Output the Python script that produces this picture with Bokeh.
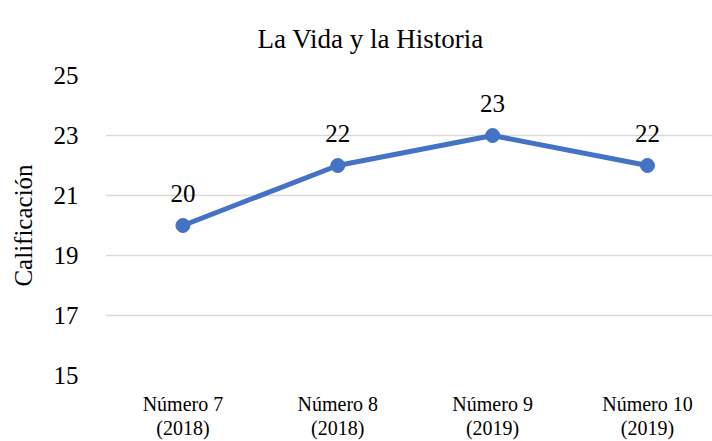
from bokeh.plotting import figure
from bokeh.models import Range1d, FixedTicker, ColumnDataSource
from bokeh.core.properties import value
from bokeh.embed import file_html
from bokeh.resources import INLINE

# Data
categories = ["Número 7\n(2018)", "Número 8\n(2018)", "Número 9\n(2019)", "Número 10\n(2019)"]
scores = [20, 22, 23, 22]
y_ticks = [15, 17, 19, 21, 23, 25]
title_text = "La Vida y la Historia"
y_label = "Calificación"

FONT = "Liberation Serif"
BLUE = "#4472C4"

xs = list(range(len(categories)))
src = ColumnDataSource(dict(x=xs, y=scores, lbl=[str(v) for v in scores]))

p = figure(frame_width=607, frame_height=300, output_backend="svg", toolbar_location=None,
           x_range=Range1d(-0.5, 3.42), y_range=Range1d(15, 25),
           min_border_left=105, min_border_right=0, min_border_top=74, min_border_bottom=60)

p.title.text = title_text
p.title.text_font = FONT
p.title.text_font_size = "27px"
p.title.text_font_style = "normal"
p.title.text_line_height = 1.0
p.title.text_color = "#000000"
p.title.align = "left"
p.title.vertical_align = "bottom"
p.title.offset = 152
p.title.standoff = 43

p.outline_line_color = None
p.background_fill_color = "white"
p.border_fill_color = "white"

# y axis
p.yaxis.ticker = FixedTicker(ticks=y_ticks)
p.yaxis.axis_line_color = None
p.yaxis.major_tick_line_color = None
p.yaxis.minor_tick_line_color = None
p.yaxis.major_label_standoff = 21
p.yaxis.major_label_text_font = FONT
p.yaxis.major_label_text_font_size = "25px"
p.yaxis.major_label_text_line_height = 1.0
p.yaxis.major_label_text_color = "#000000"
p.yaxis.axis_label = y_label
p.yaxis.axis_label_text_font = FONT
p.yaxis.axis_label_text_font_size = "25px"
p.yaxis.axis_label_text_font_style = "normal"
p.yaxis.axis_label_text_line_height = 1.0
p.yaxis.axis_label_text_color = "#000000"
p.yaxis.axis_label_standoff = 14

# x axis
p.xaxis.ticker = FixedTicker(ticks=xs)
p.xaxis.major_label_overrides = {i: c for i, c in zip(xs, categories)}
p.xaxis.axis_line_color = None
p.xaxis.major_tick_line_color = None
p.xaxis.minor_tick_line_color = None
p.xaxis.major_label_standoff = 11
p.xaxis.major_label_text_font = FONT
p.xaxis.major_label_text_font_size = "20px"
p.xaxis.major_label_text_line_height = 1.1
p.xaxis.major_label_text_color = "#000000"

# grid
p.xgrid.grid_line_color = None
p.ygrid.ticker = FixedTicker(ticks=y_ticks)
p.ygrid.grid_line_color = "#D9D9D9"
p.ygrid.grid_line_width = 1.5

p.line("x", "y", source=src, line_color=BLUE, line_width=5)
p.scatter("x", "y", source=src, size=14, fill_color=BLUE, line_color=BLUE)

p.text("x", "y", text="lbl", source=src, text_font=value(FONT), text_font_size="25px",
       text_line_height=1.1, text_align="center", text_baseline="alphabetic",
       y_offset=-32, text_color="#000000")

open("out.html", "w").write(file_html(p, INLINE))
